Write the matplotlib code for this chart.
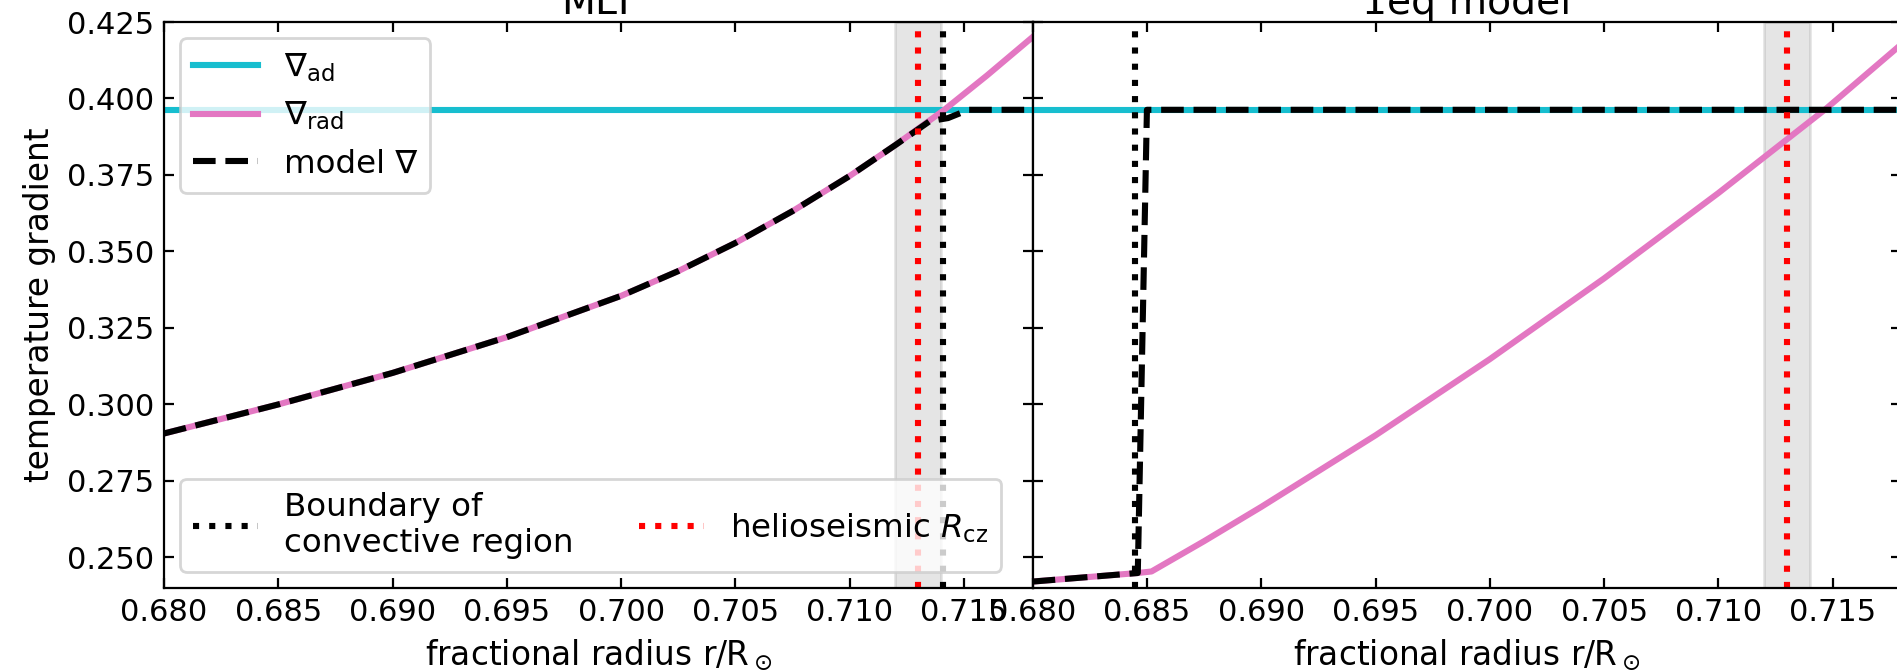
import matplotlib.pyplot as plt
from matplotlib.ticker import MultipleLocator

plt.rcParams["font.size"] = 11.8
plt.rcParams["xtick.labelsize"] = 11
plt.rcParams["ytick.labelsize"] = 11
plt.rcParams["legend.fontsize"] = 11.7

# values
nabla_ad = 0.3963
r_cz_helio = 0.713
r_cz_lo, r_cz_hi = 0.712, 0.714

# MLT panel
mlt_r = [0.680, 0.685, 0.690, 0.695, 0.700, 0.7025, 0.705, 0.7075, 0.710, 0.712, 0.7141, 0.716, 0.718]
mlt_rad = [0.2905, 0.3000, 0.3103, 0.3220, 0.3355, 0.3436, 0.3528, 0.3632, 0.3747, 0.3848, 0.3961, 0.4075, 0.4201]
mlt_model_r = [0.680, 0.685, 0.690, 0.695, 0.700, 0.7025, 0.705, 0.7075, 0.710, 0.712, 0.7135, 0.7143, 0.7147, 0.7152, 0.718]
mlt_model = [0.2905, 0.3000, 0.3103, 0.3220, 0.3355, 0.3436, 0.3528, 0.3632, 0.3747, 0.3848, 0.3926, 0.3936, 0.3948, 0.3963, 0.3963]
mlt_boundary = 0.7141

# 1eq model panel
eq_r = [0.680, 0.6846, 0.6852, 0.6875, 0.690, 0.695, 0.700, 0.705, 0.710, 0.7147, 0.718]
eq_rad = [0.2421, 0.2449, 0.2454, 0.2553, 0.2665, 0.2899, 0.3148, 0.3412, 0.3691, 0.3966, 0.4177]
eq_model_r = [0.680, 0.6846, 0.6850, 0.718]
eq_model = [0.2421, 0.2449, 0.3963, 0.3963]
eq_boundary = 0.6845

cyan = "#17becf"
pink = "#e377c2"
lw = 2.2

fig = plt.figure(figsize=(9.485, 3.355), dpi=200)
ax1 = fig.add_axes([0.08645, 0.1237, 0.4579, 0.8435])
ax2 = fig.add_axes([0.54435, 0.1237, 0.4579, 0.8435], sharey=ax1)

panels = [
    (ax1, "MLT", mlt_r, mlt_rad, mlt_model_r, mlt_model, mlt_boundary),
    (ax2, "1eq model", eq_r, eq_rad, eq_model_r, eq_model, eq_boundary),
]

for ax, title, r, rad, mr, model, bnd in panels:
    ax.axvspan(r_cz_lo, r_cz_hi, color="gray", alpha=0.2, zorder=0)
    ax.axhline(nabla_ad, color=cyan, lw=lw, label=r"$\nabla_{\rm ad}$")
    ax.plot(r, rad, color=pink, lw=lw, label=r"$\nabla_{\rm rad}$")
    ax.plot(mr, model, color="k", ls="--", lw=lw, label="model ∇")
    ax.axvline(bnd, color="k", ls=":", lw=lw, label="Boundary of\nconvective region")
    ax.axvline(r_cz_helio, color="red", ls=":", lw=lw, label=r"helioseismic $R_{\rm cz}$")
    ax.set_xlim(0.680, 0.718)
    ax.xaxis.set_major_locator(MultipleLocator(0.005))
    ax.xaxis.set_major_formatter(plt.FormatStrFormatter("%.3f"))
    ax.tick_params(direction="in", top=True, right=True)
    ax.set_xlabel(r"fractional radius r/R$_\odot$")
    ax.set_title(title, pad=3)

ax1.set_ylim(0.240, 0.425)
ax1.yaxis.set_major_locator(MultipleLocator(0.025))
ax1.yaxis.set_major_formatter(plt.FormatStrFormatter("%.3f"))
ax2.tick_params(labelleft=False)
ax1.set_ylabel("temperature gradient")

handles, labels = ax1.get_legend_handles_labels()
leg1 = ax1.legend(handles[:3], labels[:3], loc="upper left")
ax1.add_artist(leg1)
ax1.legend(handles[3:], labels[3:], loc="lower left", ncol=2)

fig.savefig("out.png", dpi=200)
